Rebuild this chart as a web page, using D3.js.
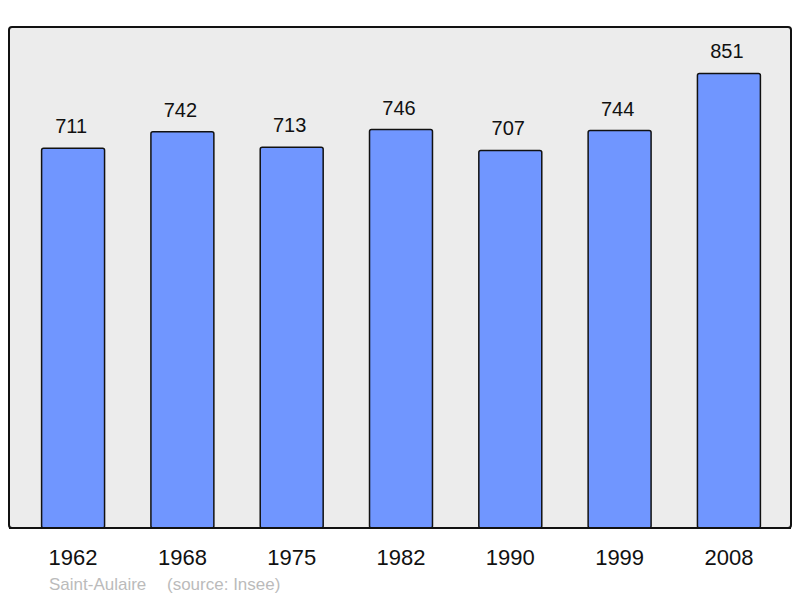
<!DOCTYPE html>
<html>
<head>
<meta charset="utf-8">
<script src="https://cdn.jsdelivr.net/npm/d3@7"></script>
<style>
  body { margin: 0; background: #fff; }
  text { font-family: "Liberation Sans", Arial, sans-serif; }
</style>
</head>
<body>
<svg width="800" height="598"></svg>
<script>
// population data for Saint-Aulaire
var years = ['1962', '1968', '1975', '1982', '1990', '1999', '2008'];
var population = [711, 742, 713, 746, 707, 744, 851];
var place = 'Saint-Aulaire';
var source = '(source: Insee)';

var svg = d3.select('svg');
var plotLeft = 9, plotRight = 791, plotTop = 27, plotBottom = 528;

// frame behind the bars
svg.append('rect')
  .attr('x', plotLeft).attr('y', plotTop)
  .attr('width', plotRight - plotLeft).attr('height', plotBottom - plotTop)
  .attr('rx', 3).attr('ry', 3)
  .attr('fill', '#ececec')
  .attr('stroke', '#111').attr('stroke-width', 2);

var x = d3.scaleBand()
  .domain(years)
  .range([11, 791])
  .paddingInner(0.424)
  .paddingOuter(0.28);

var y = d3.scaleLinear()
  .domain([0, 938])
  .range([plotBottom, plotTop]);

var data = years.map(function(yr, i) { return { year: yr, pop: population[i] }; });

svg.selectAll('rect.bar')
  .data(data)
  .enter()
  .append('rect')
    .attr('class', 'bar')
    .attr('x', function(d) { return x(d.year); })
    .attr('y', function(d) { return y(d.pop); })
    .attr('width', x.bandwidth())
    .attr('height', function(d) { return plotBottom - y(d.pop); })
    .attr('rx', 2).attr('ry', 2)
    .attr('fill', '#7096ff')
    .attr('stroke', '#111')
    .attr('stroke-width', 1.5);

// redraw bottom frame line over bar bottoms
svg.append('line')
  .attr('x1', plotLeft).attr('x2', plotRight)
  .attr('y1', plotBottom).attr('y2', plotBottom)
  .attr('stroke', '#111').attr('stroke-width', 2);

svg.selectAll('text.val')
  .data(data)
  .enter()
  .append('text')
    .attr('class', 'val')
    .attr('x', function(d) { return x(d.year) + x.bandwidth() / 2 - 2; })
    .attr('y', function(d) { return y(d.pop) - 15; })
    .attr('text-anchor', 'middle')
    .attr('font-size', 20)
    .attr('fill', '#111')
    .text(function(d) { return d.pop; });

var xAxis = svg.append('g')
  .attr('transform', 'translate(0,' + plotBottom + ')')
  .call(d3.axisBottom(x).tickSize(0).tickPadding(21));
xAxis.select('.domain').remove();
xAxis.selectAll('text')
  .attr('font-size', 22)
  .attr('font-family', '"Liberation Sans", Arial, sans-serif')
  .attr('fill', '#111');

svg.append('text')
  .attr('x', 49).attr('y', 590)
  .attr('font-size', 17)
  .attr('fill', '#bbb')
  .text(place);
svg.append('text')
  .attr('x', 167).attr('y', 590)
  .attr('font-size', 17)
  .attr('fill', '#bbb')
  .text(source);
</script>
</body>
</html>
